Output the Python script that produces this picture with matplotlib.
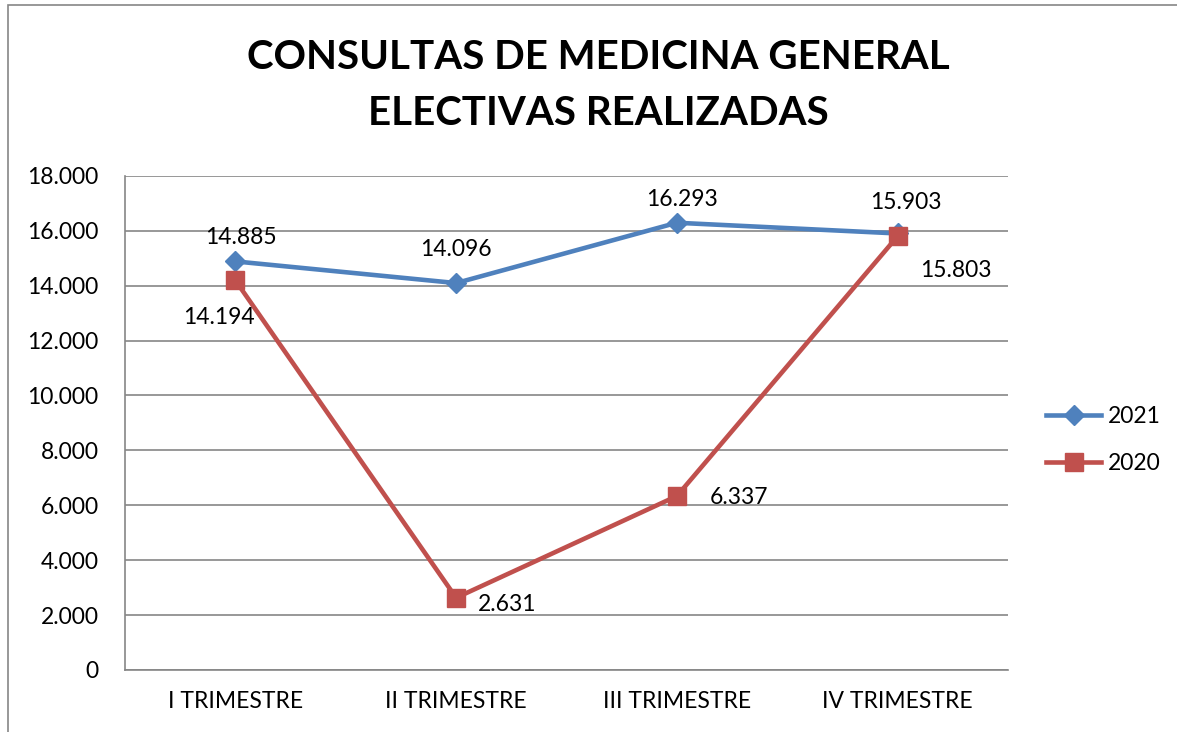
import matplotlib.pyplot as plt
from matplotlib.patches import Rectangle
from matplotlib.ticker import FuncFormatter

# Data
categories = ['I TRIMESTRE', 'II TRIMESTRE', 'III TRIMESTRE', 'IV TRIMESTRE']
values_2021 = [14885, 14096, 16293, 15903]
values_2020 = [14194, 2631, 6337, 15803]
series_names = ['2021', '2020']

# label offsets in points (label placement, not data)
offsets_2021 = [(4, 17), (0, 24), (4, 17), (6, 22)]
offsets_2020 = [(-12, -27), (37, -5), (45, -1), (42, -25)]

blue = '#4F81BD'
red = '#C0504D'
grid_col = '#868686'

plt.rcParams['font.family'] = ['Lato', 'DejaVu Sans']

fig = plt.figure(figsize=(11.77, 7.32), dpi=100)
ax = fig.add_axes([0.1062, 0.0847, 0.7502, 0.675])

# outer chart border (only left and top visible in the reference)
fig.patches.append(Rectangle((8 / 1177, -0.05), 1.2, 1 - 5 / 732 + 0.05,
                             transform=fig.transFigure, fill=False,
                             edgecolor='#868686', lw=1.2))

x = list(range(len(categories)))
ax.plot(x, values_2021, color=blue, lw=3.3, marker='D', ms=10.5,
        mfc=blue, mec=blue, label=series_names[0], zorder=3)
ax.plot(x, values_2020, color=red, lw=3.3, marker='s', ms=13,
        mfc=red, mec=red, label=series_names[1], zorder=3)

def fmt(v):
    return f'{v:,.0f}'.replace(',', '.')

for i, v in enumerate(values_2021):
    ax.annotate(fmt(v), (x[i], v), xytext=offsets_2021[i], textcoords='offset points',
                ha='center', va='center', fontsize=16.5)
for i, v in enumerate(values_2020):
    ax.annotate(fmt(v), (x[i], v), xytext=offsets_2020[i], textcoords='offset points',
                ha='center', va='center', fontsize=16.5)

ax.set_xlim(-0.5, 3.5)
ax.set_ylim(0, 18000)
ax.set_yticks(range(0, 18001, 2000))
ax.yaxis.set_major_formatter(FuncFormatter(lambda v, p: fmt(v)))
ax.set_xticks(x)
ax.set_xticklabels(categories)
ax.tick_params(axis='both', labelsize=16.5, length=0)
ax.tick_params(axis='y', pad=19)
ax.tick_params(axis='x', pad=15)
ax.grid(axis='y', color=grid_col, lw=1.2)
ax.set_axisbelow(True)
for s in ['top', 'right']:
    ax.spines[s].set_visible(False)
for s in ['left', 'bottom']:
    ax.spines[s].set_color(grid_col)
    ax.spines[s].set_linewidth(1.2)

fig.text(0.508, 0.922, 'CONSULTAS DE MEDICINA GENERAL', ha='center', va='center',
         fontsize=29, fontweight='bold')
fig.text(0.508, 0.845, 'ELECTIVAS REALIZADAS', ha='center', va='center',
         fontsize=29, fontweight='bold')

ax.legend(loc='center left', bbox_to_anchor=(1.02, 0.466), frameon=False,
          fontsize=16.5, handlelength=2.4, labelspacing=1.15, handletextpad=0.3)

fig.savefig('out.png', dpi=100)
